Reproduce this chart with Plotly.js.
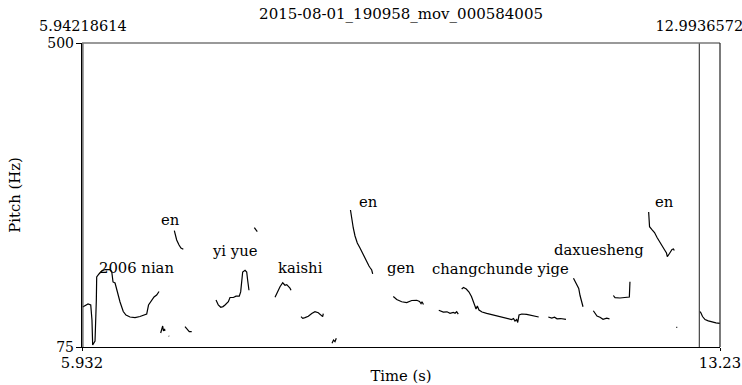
<!DOCTYPE html>
<html>
<head>
<meta charset="utf-8">
<script src="https://cdn.plot.ly/plotly-3.0.1.min.js"></script>
<style>html,body{margin:0;padding:0;background:#fff;}#chart{width:742px;height:385px;}</style>
</head>
<body>
<div id="chart"></div>
<script>
// ---- data (time in s, pitch in Hz) ----
const seg1_t = [5.940,5.966,6.001,6.032,6.046,6.054,6.081,6.096,6.100,6.126,6.157,6.195,6.252,6.272,6.287,6.310,6.329,6.367,6.404,6.435,6.481,6.538,6.595,6.672,6.693,6.729,6.756,6.786,6.813];
const seg1_f = [130.9,133.0,135.1,133.7,112.7,77.8,83.4,140.7,172.9,177.1,181.2,183.3,183.3,180.5,165.9,164.5,154.7,137.9,124.6,119.7,116.9,116.2,117.6,121.1,133.7,140.7,144.9,147.7,152.6];
const seg2_t = [6.832,6.844,6.855,6.864,6.876,6.881];
const seg2_f = [94.6,101.6,104.4,97.4,100.2,97.4];
const seg3_t = [6.923,6.930];
const seg3_f = [90.4,90.0];
const seg4_t = [6.988,7.015,7.042,7.064,7.091];
const seg4_f = [237.6,224.6,217.6,213.4,211.6];
const seg5_t = [7.110,7.136,7.159,7.187];
const seg5_f = [103.4,98.8,96.4,96.4];
const seg6_t = [7.465,7.491,7.519,7.545,7.568,7.606,7.625,7.663,7.694,7.731,7.747,7.770,7.797,7.816,7.827,7.842];
const seg6_f = [140.7,133.7,130.5,131.5,133.7,138.4,144.2,144.2,146.0,146.0,152.0,179.9,182.3,179.9,168.3,154.4];
const seg7_t = [7.903,7.937];
const seg7_f = [241.8,236.2];
const seg8_t = [8.140,8.166,8.197,8.228,8.243,8.254,8.274,8.292,8.311,8.323];
const seg8_f = [144.5,152.2,159.2,164.8,163.4,161.3,162.2,160.2,157.3,154.4];
const seg9_t = [8.437,8.457,8.483,8.521,8.560,8.597,8.635,8.663,8.685,8.692];
const seg9_f = [117.4,115.1,116.1,117.9,121.8,124.3,122.9,119.3,117.4,121.8];
const seg10_t = [8.792,8.809,8.826,8.841];
const seg10_f = [80.2,84.8,82.4,87.2];
const seg11_t = [9.003,9.017,9.035,9.055,9.081,9.112,9.150,9.186,9.215,9.230,9.246,9.257];
const seg11_f = [266.5,252.5,241.4,230.2,220.4,213.4,203.6,196.6,188.2,185.4,182.6,177.1];
const seg12_t = [9.493,9.532,9.589,9.646,9.704,9.761,9.793,9.810,9.821,9.838];
const seg12_f = [145.6,141.4,138.3,137.2,140.0,140.3,138.6,135.8,138.3,134.4];
const seg13_t = [10.013,10.065,10.107,10.142,10.179,10.199,10.218,10.236];
const seg13_f = [126.3,123.9,124.2,122.1,123.5,122.1,124.3,120.9];
const seg14_t = [10.275,10.296,10.328,10.359,10.387,10.410,10.427,10.439,10.454,10.473,10.508,10.561,10.637,10.713,10.790,10.847,10.868,10.885,10.904,10.916,10.931,10.962,11.019,11.076,11.133,11.156];
const seg14_f = [156.1,158.2,156.1,151.9,145.6,139.3,132.3,128.1,132.3,126.7,123.9,122.1,119.7,116.9,114.6,113.4,114.8,111.3,113.4,109.3,119.7,121.1,120.7,119.0,117.6,116.9];
const seg15_t = [11.266,11.305,11.337,11.366,11.405,11.437,11.468];
const seg15_f = [116.9,115.5,116.7,114.4,114.8,113.7,113.7];
const seg16_t = [11.554,11.583,11.600,11.614,11.629,11.648,11.663];
const seg16_f = [171.0,163.1,158.9,156.8,147.0,138.3,131.3];
const seg17_t = [11.781,11.806,11.823,11.857,11.892,11.934,11.966];
const seg17_f = [125.7,120.4,118.3,116.5,113.7,115.3,114.4];
const seg18_t = [12.010,12.029,12.086,12.143,12.193,12.200];
const seg18_f = [147.0,143.9,143.5,144.2,144.9,166.3];
const seg19_t = [12.414,12.424,12.449,12.481,12.510,12.538,12.563,12.595,12.618,12.627,12.652,12.681,12.698,12.707];
const seg19_f = [263.7,243.2,239.5,235.1,228.1,221.8,216.9,211.0,206.4,201.2,205.7,211.3,212.0,209.9];
const seg20_t = [12.730,12.741];
const seg20_f = [102.5,102.5];
const seg21_t = [12.994,13.010,13.030,13.059,13.096,13.139,13.184,13.228];
const seg21_f = [124.9,123.2,117.6,113.4,111.6,110.0,108.8,108.1];

const labelTexts = ["en","2006 nian","yi yue","kaishi","en","gen","changchunde yige","daxuesheng","en"];
const labelTimes = [6.944,6.561,7.682,8.437,9.209,9.581,10.719,11.846,12.593];
const labelPitch = [253.2,186.1,210.6,186.8,279.1,186.1,185.4,211.3,279.1];

const cursorTimes = [5.94218614, 12.9936572];
const cursorText = ["5.94218614", "12.9936572"];
const xTickVals = [5.932, 13.23];
const xTickText = ["5.932", "13.23"];
const yTickVals = [75, 500];
const yTickText = ["75", "500"];
const timeRange = [5.932, 13.23];
const pitchRange = [75, 500];
const chartTitle = "2015-08-01_190958_mov_000584005";

// ---- build one line trace with gaps ----
const segs = [
  [seg1_t,seg1_f],[seg2_t,seg2_f],[seg3_t,seg3_f],[seg4_t,seg4_f],[seg5_t,seg5_f],
  [seg6_t,seg6_f],[seg7_t,seg7_f],[seg8_t,seg8_f],[seg9_t,seg9_f],[seg10_t,seg10_f],
  [seg11_t,seg11_f],[seg12_t,seg12_f],[seg13_t,seg13_f],[seg14_t,seg14_f],[seg15_t,seg15_f],
  [seg16_t,seg16_f],[seg17_t,seg17_f],[seg18_t,seg18_f],[seg19_t,seg19_f],[seg20_t,seg20_f],[seg21_t,seg21_f]
];
const X = [], Y = [];
segs.forEach(s => { X.push(...s[0], null); Y.push(...s[1], null); });

const FONT = "DejaVu Serif";
const fontSpec = {family: FONT, size: 14.8, color: "#000"};
const titleFont = {family: FONT, size: 15, color: "#000"};
const topTickFont = {family: FONT, size: 14.5, color: "#000"};
const yTickFont = {family: FONT, size: 14, color: "#000"};

const traces = [
  {x: X, y: Y, type: "scatter", mode: "lines", connectgaps: false,
   line: {color: "#000", width: 1.2}, hoverinfo: "skip", showlegend: false},
  {x: cursorTimes, y: [pitchRange[1], pitchRange[1]], xaxis: "x2", yaxis: "y",
   type: "scatter", mode: "markers", marker: {opacity: 0}, hoverinfo: "skip", showlegend: false}
];

const shapes = cursorTimes.map(t => ({
  type: "line", xref: "x", yref: "paper", x0: t, x1: t, y0: 0, y1: 1,
  line: {color: "#444", width: 1.2}
}));
shapes.push({type: "line", xref: "paper", yref: "paper", x0: 0, x1: 1, y0: 1, y1: 1, line: {color: "#777", width: 1.5}});
shapes.push({type: "line", xref: "paper", yref: "paper", x0: 1, x1: 1, y0: 0, y1: 1, line: {color: "#222", width: 1.2}});

const annotations = labelTexts.map((txt, i) => ({
  x: labelTimes[i], y: labelPitch[i], xref: "x", yref: "y",
  text: txt, showarrow: false, xanchor: "center", yanchor: "middle",
  font: fontSpec
}));

const layout = {
  width: 742, height: 385,
  margin: {l: 82, r: 22, t: 43, b: 38},
  paper_bgcolor: "#fff", plot_bgcolor: "#fff",
  title: {text: chartTitle, font: titleFont, x: 0.5405, xanchor: "center", y: 0.965, yanchor: "middle"},
  font: fontSpec,
  showlegend: false,
  xaxis: {
    range: timeRange, tickvals: xTickVals, ticktext: xTickText,
    showgrid: false, zeroline: false, showline: true, linecolor: "#000", linewidth: 1.2,
    ticks: "outside", ticklen: 3, tickcolor: "#000", tickwidth: 1,
    tickfont: fontSpec, ticklabelstandoff: -1, ticklabeloverflow: "allow",
    title: {text: "Time (s)", font: fontSpec, standoff: 0}
  },
  xaxis2: {
    range: timeRange, overlaying: "x", side: "top", matches: "x",
    tickvals: cursorTimes, ticktext: cursorText,
    showgrid: false, zeroline: false, showline: false,
    ticks: "outside", ticklen: 5, tickcolor: "rgba(0,0,0,0)",
    tickfont: topTickFont, ticklabeloverflow: "allow"
  },
  yaxis: {
    range: pitchRange, tickvals: yTickVals, ticktext: yTickText,
    showgrid: false, zeroline: false, showline: true, linecolor: "#000", linewidth: 1.2,
    ticks: "outside", ticklen: 5, tickcolor: "#000", tickwidth: 1,
    tickfont: yTickFont, ticklabelstandoff: -1,
    title: {text: "Pitch (Hz)", font: fontSpec, standoff: 23}
  },
  shapes: shapes,
  annotations: annotations
};

Plotly.newPlot("chart", traces, layout, {displayModeBar: false, staticPlot: true});
</script>
</body>
</html>
